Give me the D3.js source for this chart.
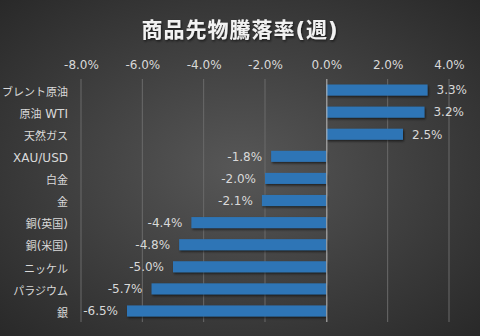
<!DOCTYPE html>
<html>
<head>
<meta charset="utf-8">
<script src="https://cdn.jsdelivr.net/npm/d3@7"></script>
<style>
  html, body { margin: 0; padding: 0; background: #2a2a2a; }
  svg { display: block; }
</style>
</head>
<body>
<svg id="chart" width="480" height="336"></svg>
<script>
// Weekly change of commodity futures (%)
const categories = ["ブレント原油", "原油 WTI", "天然ガス", "XAU/USD", "白金", "金",
                    "銅(英国)", "銅(米国)", "ニッケル", "パラジウム", "銀"];
const values = [3.3, 3.2, 2.5, -1.8, -2.0, -2.1, -4.4, -4.8, -5.0, -5.7, -6.5];
const tickValues = [-8, -6, -4, -2, 0, 2, 4];
const title = "商品先物騰落率(週)";

const W = 480, H = 336;
const latin = "'DejaVu Sans', 'Noto Sans', sans-serif";
const cjk = "'Noto Sans CJK JP', 'Noto Sans', sans-serif";
const pct = d => d3.format(".1f")(d).replace("\u2212", "-") + "%";

const svg = d3.select("#chart");
const defs = svg.append("defs");

const grad = defs.append("radialGradient")
  .attr("id", "bg").attr("cx", "50%").attr("cy", "50%").attr("r", "75%");
grad.append("stop").attr("offset", "0%").attr("stop-color", "#575757");
grad.append("stop").attr("offset", "100%").attr("stop-color", "#262626");
svg.append("rect").attr("width", W).attr("height", H).attr("fill", "url(#bg)");

const shadow = defs.append("filter").attr("id", "shadow")
  .attr("x", "-10%").attr("y", "-30%").attr("width", "130%").attr("height", "180%");
shadow.append("feDropShadow").attr("dx", 1).attr("dy", 1.5)
  .attr("stdDeviation", 0.8).attr("flood-color", "#000").attr("flood-opacity", 0.6);

// split a label into CJK / Latin runs so each run gets its own face and size
function runs(str) {
  const out = [];
  const re = /[\u3000-\u9fff\uff00-\uffef]+|[^\u3000-\u9fff\uff00-\uffef]+/g;
  let m;
  while ((m = re.exec(str))) out.push({ t: m[0], cjk: /[\u3000-\u9fff\uff00-\uffef]/.test(m[0]) });
  return out;
}
function mixed(sel, cjkSize, latinSize) {
  sel.each(function (d) {
    const s = d3.select(this);
    runs(typeof d === "string" ? d : s.attr("data-t")).forEach(r => {
      s.append("tspan")
        .attr("font-family", r.cjk ? cjk : latin)
        .attr("font-size", r.cjk ? cjkSize : latinSize)
        .text(r.t);
    });
  });
}

const x = d3.scaleLinear().domain([-8, 4]).range([81, 449]);
const y = d3.scaleBand().domain(categories).range([79, 322]).paddingInner(0.5).paddingOuter(0.25);

// title
svg.append("text")
  .attr("x", 240).attr("y", 37)
  .attr("text-anchor", "middle")
  .attr("font-weight", "bold")
  .attr("letter-spacing", 1)
  .attr("fill", "#f2f2f2").attr("filter", "url(#shadow)")
  .attr("data-t", title)
  .call(mixed, 21, 21);

// vertical gridlines
svg.append("g").selectAll("line")
  .data(tickValues.filter(d => d !== 0))
  .join("line")
  .attr("x1", d => x(d)).attr("x2", d => x(d))
  .attr("y1", 79).attr("y2", 322)
  .attr("stroke", "#6a6a6a").attr("stroke-width", 1);

// top axis labels
const axis = d3.axisTop(x).tickValues(tickValues)
  .tickFormat(pct).tickSize(0).tickPadding(0);
const gAxis = svg.append("g").attr("transform", "translate(0,69)").call(axis);
gAxis.select(".domain").remove();
gAxis.selectAll("text")
  .attr("font-family", latin).attr("font-size", 12)
  .attr("fill", "#d9d9d9");

// bars
svg.append("g").selectAll("rect")
  .data(values)
  .join("rect")
  .attr("x", d => x(Math.min(0, d)))
  .attr("width", d => Math.abs(x(d) - x(0)))
  .attr("y", (d, i) => y(categories[i]))
  .attr("height", y.bandwidth())
  .attr("fill", "#2e75b6")
  .attr("filter", "url(#shadow)");

// zero line
svg.append("line")
  .attr("x1", x(0) + 0.5).attr("x2", x(0) + 0.5)
  .attr("y1", 79).attr("y2", 322)
  .attr("stroke", "#bfbfbf").attr("stroke-width", 1);

// value labels
svg.append("g").selectAll("text")
  .data(values)
  .join("text")
  .attr("x", d => d >= 0 ? x(d) + 9 : x(d) - 9)
  .attr("y", (d, i) => y(categories[i]) + y.bandwidth() / 2)
  .attr("dy", "0.36em")
  .attr("text-anchor", d => d >= 0 ? "start" : "end")
  .attr("font-family", latin).attr("font-size", 12)
  .attr("fill", "#d9d9d9")
  .text(pct);

// category labels
svg.append("g").selectAll("text")
  .data(categories)
  .join("text")
  .attr("x", 68)
  .attr("y", d => y(d) + y.bandwidth() / 2)
  .attr("dy", "0.36em")
  .attr("text-anchor", "end")
  .attr("fill", "#d9d9d9")
  .call(mixed, 11, 12);
</script>
</body>
</html>
